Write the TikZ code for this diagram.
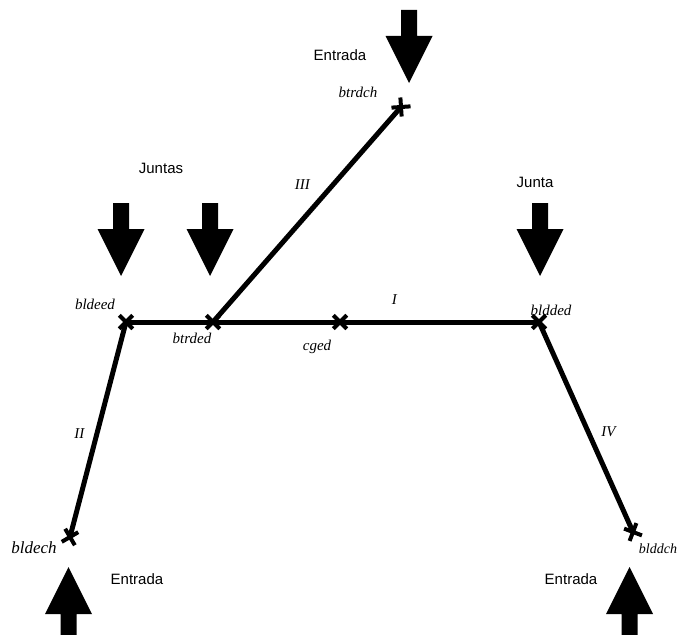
\documentclass[tikz,border=0pt]{standalone}
\usepackage{fontspec}
\setmainfont{Liberation Serif}
\setsansfont{Liberation Sans}
\usetikzlibrary{shapes.misc}

\begin{document}
\begin{tikzpicture}[x=1pt,y=-1pt,
    marca/.style={cross out,draw,line width=4pt,minimum size=9.5pt,inner sep=0pt},
    tramo/.style={line width=5pt},
    etq/.style={font=\fontsize{15}{15}\selectfont\itshape,inner sep=1pt},
    rotulo/.style={font=\fontsize{15}{15}\selectfont\sffamily,inner sep=0pt},
    flecha/.style={fill=black}]
  \useasboundingbox (0,0) rectangle (679,634);
  % cargas
  \foreach \x/\y in {409/10,121/203,210/203,540/203}
    \fill[flecha] (\x-8,\y) -- (\x+8,\y) -- (\x+8,\y+26) -- (\x+23.5,\y+26)
      -- (\x,\y+73) -- (\x-23.5,\y+26) -- (\x-8,\y+26) -- cycle;
  \foreach \x in {68.5,629.5}
    \fill[flecha] (\x,567) -- (\x+23.5,614) -- (\x+8,614) -- (\x+8,640)
      -- (\x-8,640) -- (\x-8,614) -- (\x-23.5,614) -- cycle;
  % nudos
  \node[marca,rotate=48.8] (btrdch) at (401,107) {};
  \node[marca]             (bldeed) at (126,322) {};
  \node[marca]             (btrded) at (213,322) {};
  \node[marca]             (cged)   at (340,322) {};
  \node[marca]             (bldded) at (539,322) {};
  \node[marca,rotate=75.4] (bldech) at (70,537)  {};
  \node[marca,rotate=-65.9](blddch) at (633,532) {};
  % barras
  \draw[tramo] (bldeed.center) -- node[etq,pos=0.65,above=14pt] {I} (bldded.center);
  \draw[tramo] (btrded.center) -- node[etq,pos=0.64,left=20pt] {III} (btrdch.center);
  \draw[tramo] (bldeed.center) -- node[etq,pos=0.52,left=9pt] {II} (bldech.center);
  \draw[tramo] (bldded.center) -- node[etq,pos=0.52,right=10pt] {IV} (blddch.center);
  % nombres de nudos
  \node[etq] (t-btrdch) at (358,92)  {btrdch};
  \node[etq] (t-bldeed) at (95,304)  {bldeed};
  \node[etq] (t-btrded) at (192,338) {btrded};
  \node[etq] (t-cged)   at (317,347) {cged};
  \node[etq] (t-bldded) at (551,310) {bldded};
  \node[etq,font=\fontsize{17}{17}\selectfont\itshape] (t-bldech) at (34,548) {bldech};
  \node[etq,font=\fontsize{14}{14}\selectfont\itshape] (t-blddch) at (658,549) {blddch};
  % rotulos
  \node[rotulo] (entrada-a) at (340,55)  {Entrada};
  \node[rotulo] (juntas)    at (161,168) {Juntas};
  \node[rotulo] (junta)     at (535,182) {Junta};
  \node[rotulo] (entrada-b) at (137,579) {Entrada};
  \node[rotulo] (entrada-c) at (571,579) {Entrada};
\end{tikzpicture}
\end{document}
